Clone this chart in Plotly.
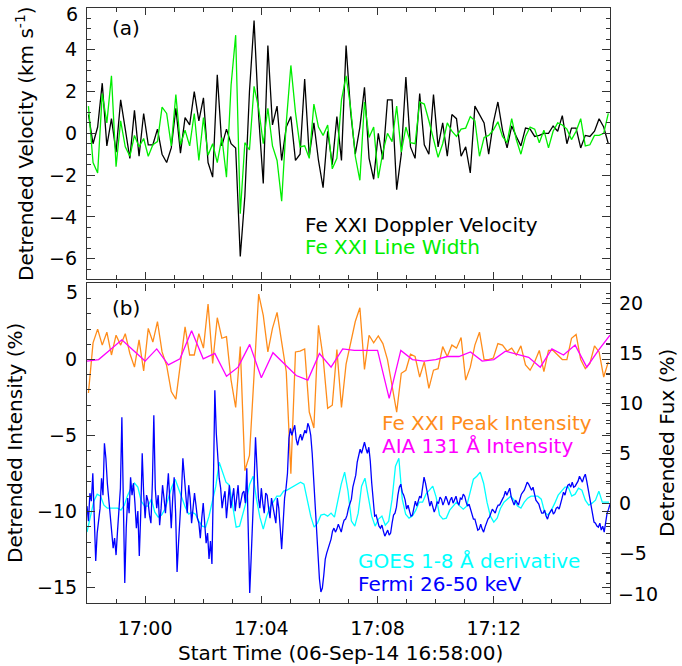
import datetime as dt
import plotly.graph_objects as go

# ---------------- data ----------------
T_START = dt.datetime(2014, 9, 6, 16, 58, 0)
T_END = dt.datetime(2014, 9, 6, 17, 16, 0)

# IRIS Fe XXI series (first sample 3 s after start, 9.5 s cadence)
IRIS_T0_S = 3.0
IRIS_DT_S = 9.5
fe_doppler = [0.9, -0.5, 0.3, 2.4, -0.6, 0.7, -0.9, 1.6, 0.2, -1.2,
              1.1, -1.1, 0.95, -0.55, -0.55, 0.2, -1.0, -1.4, -0.7, 1.2,
              -0.95, 0.75, 0.4, 2.0, 0.6, 1.7, -1.4, -2.1, 2.8, -0.6,
              0.2, -0.5, -0.7, -5.9, -3.0, 2.0, 5.4, 0.8, -2.4, 4.2,
              0.4, 1.3, -1.3, 0.3, 0.8, -1.3, -1.0, 2.6, -1.1, 0.5,
              -1.3, -2.6, 0.1, -1.5, 0.8, -1.3, 4.2, 1.0, -1.0, 0.3,
              2.2, -1.2, -2.2, 0.0, -1.25, 1.6, 1.6, -2.7, -1.0, 2.7,
              -0.65, -1.2, 1.9, -0.55, -1.0, 1.85, -0.65, 0.5, -1.1, 0.9,
              0.7, -1.1, -0.65, -1.9, 1.3, 0.9, 0.5, -1.0, 0.5, 1.5,
              0.15, -0.7, 0.35, -0.15, -0.6, 0.25, 0.2, -0.15, -0.1, 0.0,
              0.0, 0.35, 0.1, 0.85, -0.5, 0.25, 0.25, -0.7, -0.1, -0.15,
              0.1, 0.7, 0.3, -0.5]
fe_width = [1.3, -1.4, -1.9, 1.9, 0.5, 2.75, -1.6, 0.6, -0.65, -1.1,
            -0.1, -0.65, -0.25, -1.1, -0.55, -0.4, 1.25, 0.95, -0.6, 1.85,
            -0.55, 0.15, -0.6, 0.95, -1.3, 0.75, -1.05, -0.5, -1.4, -0.2,
            -2.1, 2.3, 4.7, -3.85, -0.45, -0.8, 2.25, 1.2, -0.5, 1.2,
            -0.6, -1.3, -3.25, 0.5, 3.25, 1.0, -0.65, -0.6, -1.2, 1.4,
            0.3, -0.1, 0.4, -1.7, -1.2, 1.6, 2.75, 1.2, -1.1, -2.25,
            1.5, -0.2, 0.3, -2.15, -0.9, 0.0, -0.4, 1.3, -0.9, 0.3,
            -0.45, -0.5, 1.5, 1.4, 0.6, -0.3, -1.15, -0.5, 0.5, 0.1,
            -0.15, 0.2, 0.25, 0.8, 0.6, -1.1, -0.2, -0.1, 0.15, 0.55,
            -0.15, -0.45, 0.7, -0.3, -1.0, -0.15, 0.3, 0.2, -0.45, 0.15,
            -0.7, 0.1, 0.5, 0.4, 0.2, -0.3, 0.1, 0.7, -0.6, -0.55,
            -0.1, -0.1, 0.0, 0.95]
fe_peak = [-2.2, 1.1, 2.0, 0.95, 1.8, 0.3, 1.6, 0.95, 1.7, 0.4,
           -0.5, 1.3, -0.75, 2.05, 1.15, 2.5, 0.5, -0.4, -2.1, -2.6,
           -0.25, 2.15, 0.3, 0.3, 1.7, 0.75, 3.65, -0.25, 2.75, 1.4,
           1.5, -1.35, -3.15, 0.85, -7.3, -6.3, -1.0, 4.3, 2.9, 0.5,
           2.05, 3.1, 1.15, -0.8, -7.5, 0.5, 0.55, 0.7, -3.45, -4.5,
           2.25, 0.15, -3.2, -3.0, 0.65, -3.15, -0.3, 1.0, 2.5, 3.4,
           -0.65, 1.6, 1.1, 1.55, 1.05, 0.0, -1.6, -3.45, -0.9, -0.7,
           0.35, 0.2, -1.15, -0.15, -1.9, -0.7, -0.6, 0.85, 0.2, 0.95,
           0.75, 1.45, -1.35, -0.5, 0.95, 1.8, 0.0, 0.0, 0.1, 1.05,
           0.95, 0.55, 0.75, 0.3, 0.9, -0.35, -0.7, -0.15, 0.6, -0.8,
           0.6, 0.6, 0.3, 0.0, 0.0, 1.4, 1.65, 0.0, -0.6, -0.25,
           0.9, 0.5, -1.15, -0.15]

# AIA 131 A (24 s cadence)
AIA_DT_S = 24.0
aia_131 = [-0.1, 0.0, 0.65, 1.3, 0.6, -0.1, 0.7, -0.35, 0.05, 1.9,
           0.05, 0.4, -1.1, -0.5, 1.0, -1.2, 0.45, -0.3, -1.05, -1.35,
           0.4, -0.5, 0.7, 0.6, 0.6, 0.6, -2.55, 0.6, 0.0, -0.1,
           0.0, 0.2, 0.2, 0.5, -0.1, 0.0, 0.55, 0.35, 0.15, -0.5,
           0.7, 0.3, 0.95, -0.5, 0.6, 1.6]

# GOES 1-8 A derivative (7 s samples), right axis
GOES_DT_S = 7.0
goes_deriv = [-2.9, -1.3, 0.2, 0.9, 0.7, -0.2, -0.5, -0.5, -0.5, -0.5,
              -0.7, -0.2, 0.8, 1.5, 2.0, 1.6, 0.2, -0.3, -0.3, 0.4,
              -0.9, -1.4, -1.2, -0.6, 0.5, 1.6, 2.4, 1.4, 0.6, -0.4,
              -1.1, -0.9, -1.1, -1.8, -2.3, -2.4, -1.3, 0.2, 1.7, 4.1,
              3.2, 2.1, 1.8, -0.3, -2.4, -2.3, -1.1, 0.2, 1.9, 2.7,
              0.4, -1.4, -2.6, -1.3, -0.4, 0.2, 0.7, 0.7, 1.2, 1.3,
              1.5, 1.7, 1.9, 2.1, 1.9, 0.4, -1.3, -2.4, -2.0, -1.2,
              -1.1, -1.3, -1.0, -1.4, 0.2, 1.9, 3.1, 1.2, -1.8, -2.3,
              -1.0, 1.7, 2.5, 0.4, -1.3, -2.3, -1.6, -1.3, -2.2, -1.8,
              0.4, 3.7, 4.5, 0.4, -1.1, -1.5, -1.3, -0.7, 0.1, 0.1,
              0.9, 1.3, 1.7, 0.6, -1.2, -1.6, -1.5, -0.7, -0.3, 0.1,
              -0.3, -0.6, -0.3, 1.0, 2.4, 2.7, 3.1, 2.0, 0.1, -1.3,
              -1.9, -1.5, -0.5, 0.1, 0.4, 0.7, 0.3, -0.3, -0.5, 0.1,
              0.5, 0.7, 0.7, 0.7, 0.4, -0.9, -1.2, -0.7, 0.0, 0.8,
              1.2, 1.6, 1.6, 0.7, 0.9, 1.5, 1.3, 0.3, -0.2, 0.0,
              0.3, 1.2, 0.1, 0.1, 0.1]

# Fermi 26-50 keV (3 s samples), right axis
FERMI_DT_S = 3.0
fermi = [-0.3, -1.8, 1.0, 0.2, 3.0, -2.0, -5.8, -3.0, -1.5, -0.5,
         2.5, 0.8, 6.0, 4.5, 2.0, 0.5, -1.6, -3.0, -4.5, -3.5,
         -5.2, -2.8, -1.0, 1.5, 8.6, 0.0, -8.0, -2.5, 0.5, -1.0,
         2.6, 0.8, 2.0, 0.0, -2.5, -0.8, -5.3, -1.0, 5.0, 1.0,
         -1.5, 0.8, 0.2, -1.2, -2.0, 2.0, 8.8, 1.5, -0.5, 0.8,
         -2.2, -0.5, 1.8, 0.5, -1.0, 1.0, 3.0, 0.3, -2.5, 0.5,
         2.6, -1.0, -6.9, -4.0, -2.0, 1.0, 4.5, 2.5, 0.0, -1.0,
         1.8, 0.5, -2.0, -0.5, 1.0, -0.2, -1.5, -2.0, -3.5, -1.5,
         0.0, -2.0, -4.0, -3.0, -5.6, -3.8, -6.1, 2.0, 11.3, 7.0,
         4.0, 2.5, 1.5, -0.5, 0.5, 1.2, -1.5, 0.0, 1.8, -0.5,
         0.5, 1.5, -0.8, 0.5, 1.8, -0.5, 0.3, 1.0, 1.2, 0.0,
         3.5, -4.0, -9.0, -5.5, -2.5, 2.0, 6.6, 2.5, 0.5, -0.5,
         1.5, 0.0, -1.0, 1.0, 0.8, -0.5, -1.5, 0.5, -0.5, -1.2,
         -2.0, 0.5, -0.5, -2.5, -4.6, -2.0, 0.5, 1.5, 3.0, 6.5,
         7.5, 6.8, 7.2, 7.8, 6.4, 5.8, 6.5, 6.9, 6.3, 6.8,
         7.3, 7.0, 8.0, 7.6, 6.8, 5.0, 2.5, 0.0, -2.8, -5.5,
         -7.6, -8.9, -8.5, -7.2, -5.6, -5.0, -4.6, -4.2, -3.6, -2.8,
         -2.5, -2.9, -2.6, -2.1, -2.5, -2.9, -2.2, -1.7, -1.6, -1.2,
         -0.5, 0.0, 0.4, 1.6, 2.2, 2.8, 4.1, 4.9, 5.4, 5.0,
         5.6, 6.1, 5.5, 5.0, 5.6, 4.2, 2.0, 0.2, -1.3, -1.2,
         -1.8, -2.3, -2.5, -2.2, -2.8, -3.3, -3.0, -2.7, -3.2, -3.0,
         -2.0, -1.2, -1.0, -0.4, 0.8, 1.6, 1.9, 1.1, 0.8, 0.3,
         -0.6, -0.2, -0.8, -1.3, -1.2, -0.4, 0.2, -0.3, 0.2, 0.7,
         0.5, 1.6, 2.6, 2.0, 1.2, 0.1, -0.3, 0.2, -0.3, -0.9,
         -0.5, 0.1, 0.0, 0.6, 0.4, -0.2, 0.2, 0.7, 0.3, -0.2,
         0.3, 0.6, 0.0, 0.3, 0.7, 0.1, -0.2, 0.5, 0.4, 0.9,
         0.7, 0.1, -0.3, -0.1, -0.6, -1.0, -1.6, -1.6, -2.2, -2.7,
         -2.6, -2.1, -2.6, -2.9, -2.4, -1.9, -1.6, -1.4, -1.0, -0.6,
         -0.8, -1.0, -0.5, -0.2, -0.2, 0.2, 0.4, 0.7, 1.2, 0.8,
         1.2, 1.5, 0.6, 0.2, -0.2, 0.3, 0.1, -0.2, 0.4, 0.9,
         1.1, 1.3, 1.7, 2.1, 1.9, 1.5, 1.3, 1.6, 0.8, 0.3,
         0.1, -0.1, -0.6, -1.0, -1.0, -0.7, -1.3, -1.6, -1.1, -0.8,
         -0.6, -1.1, -0.9, -0.5, -0.4, -0.6, 0.1, 0.5, 1.1, 0.8,
         1.4, 1.8, 1.9, 1.6, 2.1, 1.6, 1.7, 2.0, 2.2, 2.7,
         2.4, 2.1, 2.6, 2.9, 2.2, 1.3, 0.4, -0.5, -1.3, -1.9,
         -2.0, -2.3, -2.4, -2.0, -2.7, -2.3, -2.9, -2.0, -1.0, -0.6,
         -0.1]

X_TICK_LABELS = ["17:00", "17:04", "17:08", "17:12"]
Y_TOP_TICKS = [-6, -4, -2, 0, 2, 4]
Y_LEFT_TICKS = [-15, -10, -5, 0]
Y_RIGHT_TICKS = [-5, 0, 5, 10, 15, 20]


def times(n, t0_s, step_s):
    return [T_START + dt.timedelta(seconds=t0_s + i * step_s) for i in range(n)]


def lab(v):
    return str(v).replace("-", "\u2212")


t_iris = times(len(fe_doppler), IRIS_T0_S, IRIS_DT_S)
t_aia = times(len(aia_131), 0.0, AIA_DT_S)
t_goes = times(len(goes_deriv), 0.0, GOES_DT_S)
t_fermi = times(len(fermi), 0.0, FERMI_DT_S)
x_tickvals = [dt.datetime(2014, 9, 6, int(s[:2]), int(s[3:]), 0) for s in X_TICK_LABELS]

# ---------------- figure ----------------
FONT = "DejaVu Sans"
FS_TICK = 19
FS = 20
LW = 1.3
BLACK = "#000000"
GREEN = "#00ee00"
ORANGE = "#ff8c1a"
MAGENTA = "#ff00ff"
CYAN = "#00ffff"
BLUE = "#0000ff"
FRAME = "#333333"

fig = go.Figure()
fig.add_trace(go.Scatter(x=t_iris, y=fe_doppler, mode="lines", line=dict(color=BLACK, width=LW),
                         xaxis="x", yaxis="y", showlegend=False))
fig.add_trace(go.Scatter(x=t_iris, y=fe_width, mode="lines", line=dict(color=GREEN, width=LW),
                         xaxis="x", yaxis="y", showlegend=False))
fig.add_trace(go.Scatter(x=t_iris, y=fe_peak, mode="lines", line=dict(color=ORANGE, width=LW),
                         xaxis="x2", yaxis="y3", showlegend=False))
fig.add_trace(go.Scatter(x=t_aia, y=aia_131, mode="lines", line=dict(color=MAGENTA, width=LW),
                         xaxis="x2", yaxis="y3", showlegend=False))
fig.add_trace(go.Scatter(x=t_goes, y=goes_deriv, mode="lines", line=dict(color=CYAN, width=LW),
                         xaxis="x2", yaxis="y4", showlegend=False))
fig.add_trace(go.Scatter(x=t_fermi, y=fermi, mode="lines", line=dict(color=BLUE, width=LW),
                         xaxis="x2", yaxis="y4", showlegend=False))

common = dict(showline=True, linecolor=FRAME, linewidth=1.2, ticks="inside", tickcolor=FRAME,
              tickwidth=1.1, zeroline=False, showgrid=False,
              tickfont=dict(family=FONT, size=FS_TICK, color="black"))

xcommon = dict(common, type="date", range=[T_START, T_END], tickmode="array",
               tickvals=x_tickvals, ticktext=X_TICK_LABELS, ticklen=7,
               minor=dict(tickmode="linear", tick0="2014-09-06 16:58:00", dtick=60000, ticklen=4,
                          ticks="inside", tickcolor=FRAME, tickwidth=1.1, showgrid=False),
               mirror="ticks")

TOP_DOM = [0.5437, 1.0]
BOT_DOM = [0.0, 0.537]

fig.update_layout(
    width=682, height=666,
    margin=dict(l=87, r=72, t=8, b=63),
    paper_bgcolor="white", plot_bgcolor="white",
    font=dict(family=FONT, size=FS, color="black"),
    xaxis=dict(xcommon, domain=[0, 1], anchor="y", showticklabels=False),
    xaxis2=dict(xcommon, domain=[0, 1], anchor="y3", showticklabels=True, matches="x",
                ticklabelstandoff=8),
    yaxis=dict(common, domain=TOP_DOM, anchor="x", range=[-7, 6], tickmode="array",
               tickvals=Y_TOP_TICKS, ticktext=[lab(v) for v in Y_TOP_TICKS], ticklen=8,
               minor=dict(tickmode="linear", tick0=0, dtick=0.5, ticklen=4, ticks="inside",
                          tickcolor=FRAME, tickwidth=1.1, showgrid=False),
               mirror="ticks", ticklabelstandoff=5),
    yaxis3=dict(common, domain=BOT_DOM, anchor="x2", range=[-16, 5], tickmode="array",
                tickvals=Y_LEFT_TICKS, ticktext=[lab(v) for v in Y_LEFT_TICKS], ticklen=8,
                minor=dict(tickmode="linear", tick0=0, dtick=1, ticklen=4, ticks="inside",
                           tickcolor=FRAME, tickwidth=1.1, showgrid=False),
                mirror="ticks", ticklabelstandoff=5),
    yaxis4=dict(common, overlaying="y3", anchor="x2", side="right", range=[-10, 22],
                tickmode="array", tickvals=Y_RIGHT_TICKS, ticktext=[lab(v) for v in Y_RIGHT_TICKS],
                ticklen=8,
                minor=dict(tickmode="linear", tick0=0, dtick=1, ticklen=4, ticks="inside",
                           tickcolor=FRAME, tickwidth=1.1, showgrid=False),
                ticklabelstandoff=4),
)

PW, PH = 523.0, 595.0


def px(x):
    return (x - 87) / PW


def py(y):
    return (603 - y) / PH


ann = []


def text(x, y, s, color="black", anchor="left", angle=0, size=FS):
    ann.append(dict(x=px(x), y=py(y), xref="paper", yref="paper", text=s, showarrow=False,
                    xanchor=anchor, yanchor="middle", textangle=angle,
                    font=dict(family=FONT, size=size, color=color)))


# panel labels
text(126, 28, "(a)", anchor="center")
text(126, 308, "(b)", anchor="center")
# in-plot legends
text(303, 225, "Fe XXI Doppler Velocity", BLACK)
text(303, 247, "Fe XXI Line Width", GREEN)
text(380, 423, "Fe XXI Peak Intensity", ORANGE)
text(380, 446, "AIA 131 \u00c5 Intensity", MAGENTA)
text(356, 561, "GOES 1-8 \u00c5 derivative", CYAN)
text(356, 584, "Fermi 26-50 keV", BLUE)
# axis titles
text(25, 144, "Detrended Velocity (km s<sup>-1</sup>)", anchor="center", angle=-90)
text(15, 443, "Detrended Intensity (%)", anchor="center", angle=-90)
text(667, 443, "Detrended Fux (%)", anchor="center", angle=-90)
text(340, 653, "Start Time (06-Sep-14 16:58:00)", anchor="center")

# edge tick labels (drawn slightly inside like the original)
ann.append(dict(x=0, y=6, xref="paper", yref="y", text="6", showarrow=False, xanchor="right",
                yanchor="middle", xshift=-7, yshift=-6,
                font=dict(family=FONT, size=FS_TICK, color="black")))
ann.append(dict(x=0, y=5, xref="paper", yref="y3", text="5", showarrow=False, xanchor="right",
                yanchor="middle", xshift=-7, yshift=-9,
                font=dict(family=FONT, size=FS_TICK, color="black")))
ann.append(dict(x=1, y=-10, xref="paper", yref="y4", text="\u221210", showarrow=False,
                xanchor="left", yanchor="middle", xshift=6, yshift=9,
                font=dict(family=FONT, size=FS_TICK, color="black")))

fig.update_layout(annotations=ann)
fig.write_html("out.html")
